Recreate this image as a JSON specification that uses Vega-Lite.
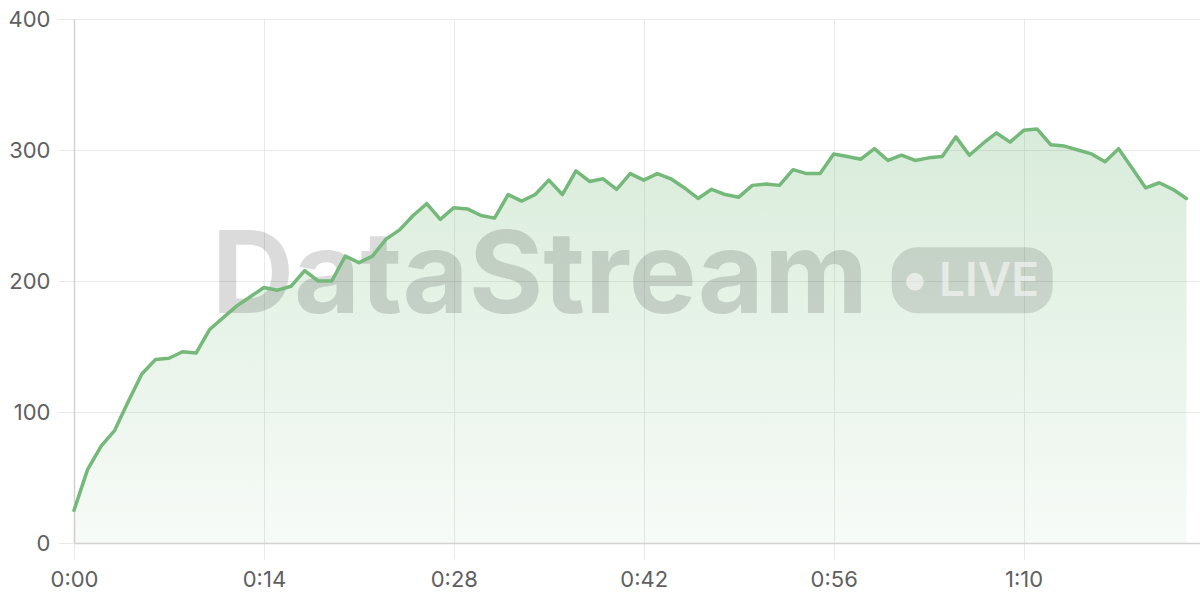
{
  "$schema": "https://vega.github.io/schema/vega-lite/v6.json",
  "width": 1126,
  "height": 524,
  "autosize": {"type": "none"},
  "padding": {"left": 74, "top": 19, "right": 0, "bottom": 57},
  "background": "white",
  "config": {
    "view": {"stroke": null},
    "axis": {
      "title": null,
      "labelFont": "Inter",
      "labelFontSize": 22,
      "labelColor": "#5f5f5f",
      "labelFlush": false,
      "gridColor": "#e9e9e9",
      "tickColor": "#e9e9e9",
      "tickSize": 16,
      "domainColor": "#d2d2d2",
      "domainWidth": 1.5,
      "labelPadding": 8
    }
  },
  "datasets": {
    "series": [
      {"t": 0, "v": 25}, {"t": 1, "v": 56}, {"t": 2, "v": 74}, {"t": 3, "v": 86},
      {"t": 4, "v": 108}, {"t": 5, "v": 129}, {"t": 6, "v": 140}, {"t": 7, "v": 141},
      {"t": 8, "v": 146}, {"t": 9, "v": 145}, {"t": 10, "v": 163}, {"t": 11, "v": 172},
      {"t": 12, "v": 181}, {"t": 13, "v": 188}, {"t": 14, "v": 195}, {"t": 15, "v": 193},
      {"t": 16, "v": 196}, {"t": 17, "v": 208}, {"t": 18, "v": 200}, {"t": 19, "v": 200},
      {"t": 20, "v": 219}, {"t": 21, "v": 214}, {"t": 22, "v": 219}, {"t": 23, "v": 232},
      {"t": 24, "v": 239}, {"t": 25, "v": 250}, {"t": 26, "v": 259}, {"t": 27, "v": 247},
      {"t": 28, "v": 256}, {"t": 29, "v": 255}, {"t": 30, "v": 250}, {"t": 31, "v": 248},
      {"t": 32, "v": 266}, {"t": 33, "v": 261}, {"t": 34, "v": 266}, {"t": 35, "v": 277},
      {"t": 36, "v": 266}, {"t": 37, "v": 284}, {"t": 38, "v": 276}, {"t": 39, "v": 278},
      {"t": 40, "v": 270}, {"t": 41, "v": 282}, {"t": 42, "v": 277}, {"t": 43, "v": 282},
      {"t": 44, "v": 278}, {"t": 45, "v": 271}, {"t": 46, "v": 263}, {"t": 47, "v": 270},
      {"t": 48, "v": 266}, {"t": 49, "v": 264}, {"t": 50, "v": 273}, {"t": 51, "v": 274},
      {"t": 52, "v": 273}, {"t": 53, "v": 285}, {"t": 54, "v": 282}, {"t": 55, "v": 282},
      {"t": 56, "v": 297}, {"t": 57, "v": 295}, {"t": 58, "v": 293}, {"t": 59, "v": 301},
      {"t": 60, "v": 292}, {"t": 61, "v": 296}, {"t": 62, "v": 292}, {"t": 63, "v": 294},
      {"t": 64, "v": 295}, {"t": 65, "v": 310}, {"t": 66, "v": 296}, {"t": 67, "v": 305},
      {"t": 68, "v": 313}, {"t": 69, "v": 306}, {"t": 70, "v": 315}, {"t": 71, "v": 316},
      {"t": 72, "v": 304}, {"t": 73, "v": 303}, {"t": 74, "v": 300}, {"t": 75, "v": 297},
      {"t": 76, "v": 291}, {"t": 77, "v": 301}, {"t": 78, "v": 286}, {"t": 79, "v": 271},
      {"t": 80, "v": 275}, {"t": 81, "v": 270}, {"t": 82, "v": 263}
    ],
    "watermark": [{"brand": "DataStream", "badge": "LIVE"}]
  },
  "layer": [
    {
      "data": {"name": "series"},
      "mark": {
        "type": "area",
        "color": {
          "gradient": "linear",
          "x1": 0, "y1": 0, "x2": 0, "y2": 1,
          "stops": [
            {"offset": 0, "color": "rgba(116,185,122,0.28)"},
            {"offset": 1, "color": "rgba(116,185,122,0.06)"}
          ]
        }
      },
      "encoding": {
        "x": {
          "field": "t",
          "type": "quantitative",
          "scale": {"domain": [0, 83], "nice": false, "zero": false},
          "axis": {
            "values": [0, 14, 28, 42, 56, 70],
            "grid": true,
            "labelPadding": 10,
            "labelExpr": "floor(datum.value / 60) + ':' + (datum.value % 60 < 10 ? '0' : '') + (datum.value % 60)"
          }
        },
        "y": {
          "field": "v",
          "type": "quantitative",
          "scale": {"domain": [0, 400], "nice": false},
          "axis": {"values": [0, 100, 200, 300, 400], "grid": true}
        }
      }
    },
    {
      "data": {"name": "watermark"},
      "mark": {
        "type": "text",
        "font": "Inter",
        "fontWeight": "bold",
        "fontSize": 114,
        "align": "left",
        "baseline": "alphabetic",
        "color": "rgba(0,0,0,0.14)"
      },
      "encoding": {
        "x": {"datum": 10.15, "type": "quantitative"},
        "y": {"datum": 175.6, "type": "quantitative"},
        "text": {"field": "brand", "type": "nominal"}
      }
    },
    {
      "data": {"name": "watermark"},
      "mark": {"type": "rect", "cornerRadius": 26, "color": "rgba(0,0,0,0.12)"},
      "encoding": {
        "x": {"datum": 60.28, "type": "quantitative"},
        "x2": {"datum": 72.14},
        "y": {"datum": 225.7, "type": "quantitative"},
        "y2": {"datum": 175.3}
      }
    },
    {
      "data": {"name": "watermark"},
      "mark": {"type": "point", "shape": "circle", "filled": true, "size": 314, "color": "rgba(255,255,255,0.55)", "opacity": 1},
      "encoding": {
        "x": {"datum": 61.99, "type": "quantitative"},
        "y": {"datum": 199.5, "type": "quantitative"}
      }
    },
    {
      "data": {"name": "watermark"},
      "mark": {
        "type": "text",
        "font": "Inter",
        "fontWeight": 600,
        "fontSize": 46,
        "align": "left",
        "baseline": "alphabetic",
        "color": "rgba(255,255,255,0.55)"
      },
      "encoding": {
        "x": {"datum": 63.76, "type": "quantitative"},
        "y": {"datum": 188.5, "type": "quantitative"},
        "text": {"field": "badge", "type": "nominal"}
      }
    },
    {
      "data": {"name": "series"},
      "mark": {"type": "line", "color": "#74b97a", "strokeWidth": 3.5, "strokeJoin": "round", "strokeCap": "round"},
      "encoding": {
        "x": {"field": "t", "type": "quantitative"},
        "y": {"field": "v", "type": "quantitative"}
      }
    }
  ]
}
